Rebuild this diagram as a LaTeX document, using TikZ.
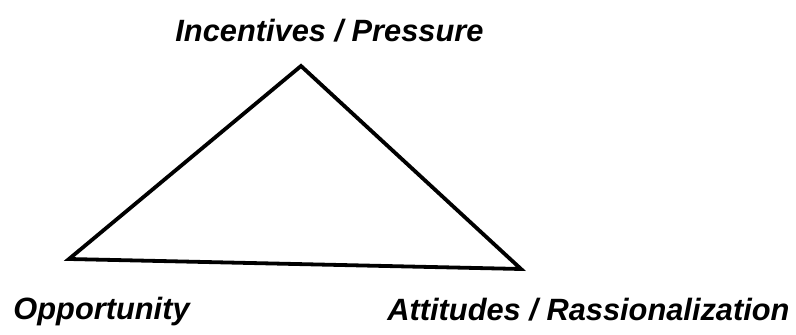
\documentclass[tikz,border=0pt]{standalone}
\usepackage{fontspec}
\setmainfont{Liberation Sans}
\usetikzlibrary{positioning}

\begin{document}
\begin{tikzpicture}[x=0.5pt,y=-0.5pt,
  corner/.style={inner sep=0pt,outer sep=0pt},
  lab/.style={font=\fontsize{15.4}{18}\selectfont\bfseries\itshape,inner sep=0pt,anchor=base west},
  side/.style={line width=1.9pt,line join=miter}]
 \useasboundingbox (0,0) rectangle (796,335);
 % ---- corners ----
 \coordinate (top) at (301,66);
 \coordinate (opp) at (69,259);
 \coordinate (att) at (521,269);
 % ---- triangle ----
 \draw[side] (top) -- (att) -- (opp) -- cycle;
 % ---- labels ----
 \node[lab] (ip) at (175,42) {Incentives / Pressure};
 \node[lab] (op) at (13,320) {Opportunity};
 \node[lab] (ar) at (387,321) {Attitudes / Rassionalization};
\end{tikzpicture}
\end{document}
